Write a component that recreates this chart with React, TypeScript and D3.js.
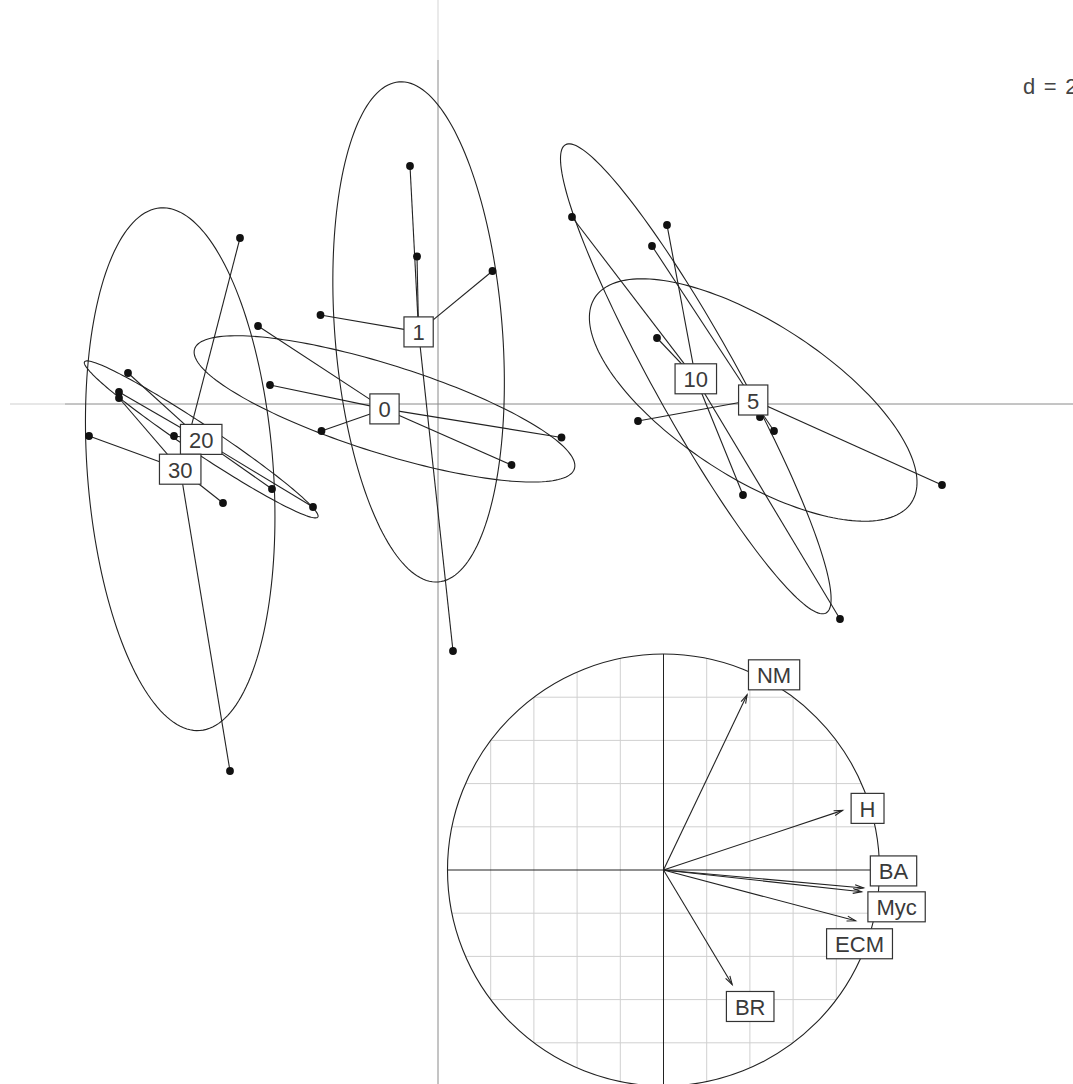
import React, { useRef, useEffect } from "react";
import * as d3 from "d3";

// group labels (sampling dates) and their scores on axes 1 and 2
const groups = ["0", "1", "5", "10", "20", "30"];

const axis1 = [
  -3.6, -3.36, -2.33, 1.47, 2.47,
  -0.56, -0.42, 1.09, -2.35, 0.3,
  4.28, 4.0, 6.44, 6.72, 10.08,
  2.68, 4.58, 4.38, 6.1, 8.04,
  -6.2, -6.38, -5.28, -3.32, -2.5,
  -3.96, -6.98, -4.3, -4.16, -6.38,
];

const axis2 = [
  1.56, 0.38, -0.54, -1.22, -0.67,
  4.76, 2.95, 2.66, 1.78, -4.94,
  3.16, -0.34, -0.26, -0.54, -1.62,
  3.74, 3.58, 1.32, -1.82, -4.3,
  0.62, 0.24, -0.64, -1.7, -2.06,
  3.32, -0.64, -1.98, -7.34, 0.12,
];

const pointGroup = [
  "0", "0", "0", "0", "0",
  "1", "1", "1", "1", "1",
  "5", "5", "5", "5", "5",
  "10", "10", "10", "10", "10",
  "20", "20", "20", "20", "20",
  "30", "30", "30", "30", "30",
];

// variables of the correlation circle
const variables = ["NM", "H", "BA", "Myc", "ECM", "BR"];
const corr1 = [0.387, 0.829, 0.926, 0.917, 0.889, 0.318];
const corr2 = [0.811, 0.276, -0.083, -0.101, -0.235, -0.53];

const gridStep = 2;
const cellipse = 1.5;

export default function App() {
  const svgRef = useRef<SVGSVGElement>(null);

  useEffect(() => {
    const width = 1073;
    const height = 1084;
    const font = "'Liberation Sans', Arial, Helvetica, sans-serif";

    const svg = d3.select(svgRef.current)
      .attr("width", width)
      .attr("height", height)
      .attr("viewBox", [0, 0, width, height]);
    svg.selectAll("*").remove();

    const x = d3.scaleLinear().domain([-8.76, 12.7]).range([0, width]);
    const y = d3.scaleLinear().domain([8.08, -13.6]).range([0, height]);

    // axes through the origin
    svg.append("line")
      .attr("x1", 10).attr("x2", 65)
      .attr("y1", y(0)).attr("y2", y(0))
      .attr("stroke", "#cfcfcf").attr("stroke-width", 1);
    svg.append("line")
      .attr("x1", 65).attr("x2", width)
      .attr("y1", y(0)).attr("y2", y(0))
      .attr("stroke", "#8a8a8a").attr("stroke-width", 1);
    svg.append("line")
      .attr("x1", x(0)).attr("x2", x(0))
      .attr("y1", 0).attr("y2", 60)
      .attr("stroke", "#d5d5d5").attr("stroke-width", 1);
    svg.append("line")
      .attr("x1", x(0)).attr("x2", x(0))
      .attr("y1", 60).attr("y2", height)
      .attr("stroke", "#8a8a8a").attr("stroke-width", 1);

    const pts = axis1.map((v, i) => ({ x: v, y: axis2[i], g: pointGroup[i] }));
    const line = d3.line<[number, number]>().x(d => x(d[0])).y(d => y(d[1]));

    const stats = groups.map(g => {
      const p = pts.filter(d => d.g === g);
      const mx = d3.mean(p, d => d.x)!;
      const my = d3.mean(p, d => d.y)!;
      const vx = d3.mean(p, d => (d.x - mx) ** 2)!;
      const vy = d3.mean(p, d => (d.y - my) ** 2)!;
      const cxy = d3.mean(p, d => (d.x - mx) * (d.y - my))!;
      // eigen decomposition of the 2x2 covariance matrix
      const tr = vx + vy;
      const det = vx * vy - cxy * cxy;
      const disc = Math.sqrt(Math.max(0, tr * tr / 4 - det));
      const l1 = tr / 2 + disc;
      const l2 = Math.max(0, tr / 2 - disc);
      const theta = Math.abs(cxy) < 1e-12 ? (vx >= vy ? 0 : Math.PI / 2) : Math.atan2(l1 - vx, cxy);
      const a = cellipse * Math.sqrt(l1);
      const b = cellipse * Math.sqrt(l2);
      const ell: [number, number][] = d3.range(0, 361, 2).map(t => {
        const r = (t * Math.PI) / 180;
        const u = a * Math.cos(r);
        const w = b * Math.sin(r);
        return [mx + u * Math.cos(theta) - w * Math.sin(theta), my + u * Math.sin(theta) + w * Math.cos(theta)];
      });
      return { g, mx, my, p, ell };
    });

    const main = svg.append("g");

    main.selectAll("path.ell")
      .data(stats)
      .join("path")
      .attr("class", "ell")
      .attr("d", d => line(d.ell))
      .attr("fill", "none")
      .attr("stroke", "#222")
      .attr("stroke-width", 1.1);

    main.selectAll("line.star")
      .data(pts)
      .join("line")
      .attr("class", "star")
      .attr("x1", d => x(stats.find(s => s.g === d.g)!.mx))
      .attr("y1", d => y(stats.find(s => s.g === d.g)!.my))
      .attr("x2", d => x(d.x))
      .attr("y2", d => y(d.y))
      .attr("stroke", "#222")
      .attr("stroke-width", 1.1);

    main.selectAll("circle.pt")
      .data(pts)
      .join("circle")
      .attr("class", "pt")
      .attr("cx", d => x(d.x))
      .attr("cy", d => y(d.y))
      .attr("r", 3.9)
      .attr("fill", "#111");

    // boxed label helper
    const boxLabel = (g: any, cx: number, cy: number, label: string) => {
      const fs = 22;
      const t = g.append("text")
        .attr("x", cx)
        .attr("y", cy + 1)
        .attr("text-anchor", "middle")
        .attr("dominant-baseline", "central")
        .attr("font-family", font)
        .attr("font-size", fs)
        .attr("fill", "#3a3a3a")
        .text(label);
      const w = (t.node() as SVGTextElement).getComputedTextLength() + 17;
      const h = 30;
      g.insert("rect", () => t.node())
        .attr("x", cx - w / 2)
        .attr("y", cy - h / 2)
        .attr("width", w)
        .attr("height", h)
        .attr("fill", "white")
        .attr("stroke", "#333")
        .attr("stroke-width", 1.2);
    };

    stats.forEach(s => {
      const lg = main.append("g");
      boxLabel(lg, x(s.mx), y(s.my), s.g);
    });

    // grid size legend (runs past the right edge, as in the original)
    svg.append("text")
      .attr("x", 1023)
      .attr("y", 94)
      .attr("font-family", font)
      .attr("font-size", 22)
      .attr("word-spacing", 2.5)
      .attr("fill", "#444")
      .text(`d = ${gridStep}`);

    // correlation circle inset
    const cx = d3.scaleLinear().domain([-1, 1]).range([447.5, 879.5]);
    const cy = d3.scaleLinear().domain([1, -1]).range([654, 1086]);
    const inset = svg.append("g");

    inset.append("circle")
      .attr("cx", cx(0)).attr("cy", cy(0))
      .attr("r", cx(1) - cx(0))
      .attr("fill", "white");

    const ticks = [-0.8, -0.6, -0.4, -0.2, 0.2, 0.4, 0.6, 0.8];
    inset.selectAll("line.vg")
      .data(ticks)
      .join("line")
      .attr("class", "vg")
      .attr("x1", d => cx(d)).attr("x2", d => cx(d))
      .attr("y1", d => cy(Math.sqrt(1 - d * d)))
      .attr("y2", d => cy(-Math.sqrt(1 - d * d)))
      .attr("stroke", "#d0d0d0");
    inset.selectAll("line.hg")
      .data(ticks)
      .join("line")
      .attr("class", "hg")
      .attr("y1", d => cy(d)).attr("y2", d => cy(d))
      .attr("x1", d => cx(-Math.sqrt(1 - d * d)))
      .attr("x2", d => cx(Math.sqrt(1 - d * d)))
      .attr("stroke", "#d0d0d0");

    inset.append("line")
      .attr("x1", cx(-1)).attr("x2", cx(1))
      .attr("y1", cy(0)).attr("y2", cy(0))
      .attr("stroke", "#222");
    inset.append("line")
      .attr("x1", cx(0)).attr("x2", cx(0))
      .attr("y1", cy(1)).attr("y2", cy(-1))
      .attr("stroke", "#222");
    inset.append("circle")
      .attr("cx", cx(0)).attr("cy", cy(0))
      .attr("r", cx(1) - cx(0))
      .attr("fill", "none")
      .attr("stroke", "#222")
      .attr("stroke-width", 1.1);

    const vars = variables.map((v, i) => ({ v, a: corr1[i], b: corr2[i] }));
    vars.forEach(d => {
      const x0 = cx(0), y0 = cy(0), x1 = cx(d.a), y1 = cy(d.b);
      const ang = Math.atan2(y1 - y0, x1 - x0);
      const hl = 9, ha = (16 * Math.PI) / 180;
      inset.append("line")
        .attr("x1", x0).attr("y1", y0).attr("x2", x1).attr("y2", y1)
        .attr("stroke", "#222").attr("stroke-width", 1.1);
      inset.append("path")
        .attr("d", `M${x1 - hl * Math.cos(ang - ha)},${y1 - hl * Math.sin(ang - ha)}L${x1},${y1}L${x1 - hl * Math.cos(ang + ha)},${y1 - hl * Math.sin(ang + ha)}`)
        .attr("fill", "none")
        .attr("stroke", "#222")
        .attr("stroke-width", 1.1);
    });

    // label placement offsets (px) from the arrow tips
    const nudge: Record<string, [number, number]> = {
      NM: [27, -20], H: [25, -2], BA: [30, -17], Myc: [35, 15], ECM: [4, 23], BR: [18, 22],
    };
    vars.forEach(d => {
      const [dx, dy] = nudge[d.v];
      boxLabel(inset.append("g"), cx(d.a) + dx, cy(d.b) + dy, d.v);
    });
  }, []);

  return (
    <div style={{ position: "absolute", left: 0, top: 0 }}>
      <svg ref={svgRef} style={{ display: "block", background: "white" }}></svg>
    </div>
  );
}
